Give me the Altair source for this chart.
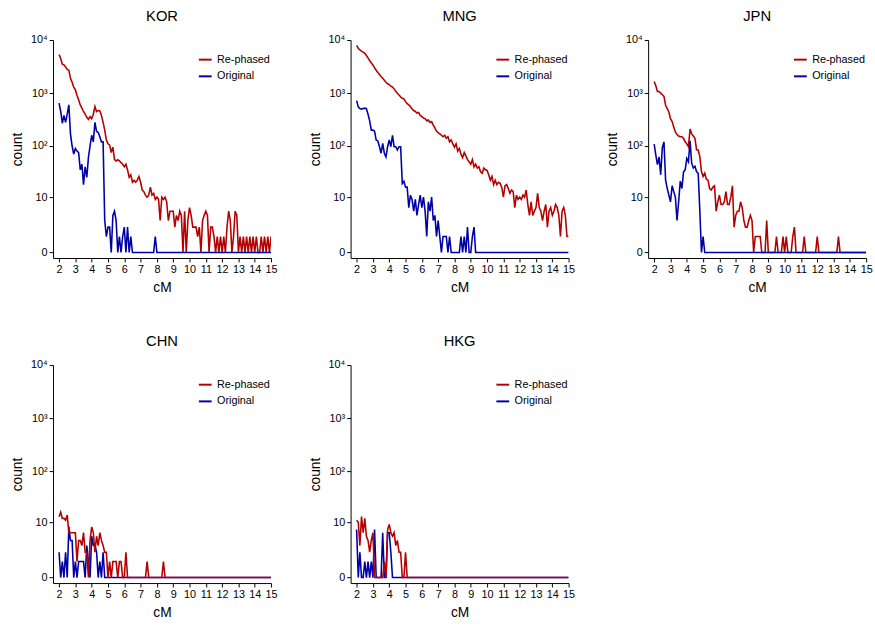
import altair as alt
import pandas as pd

# bin centres (cM)
CM = [round(2 + i / 10, 1) for i in range(131)]
XTICKS = list(range(2, 16))
YTICKS = [0, 10, 100, 1000, 10000]
SERIES = ["Re-phased", "Original"]

KOR_RE = [5300, 4500, 3500, 3400, 3100, 2800, 2700, 1900, 1600, 1300,
          1150, 900, 750, 600, 520, 450, 400, 350, 320, 360,
          330, 400, 560, 450, 470, 460, 380, 280, 200, 130,
          110, 105, 75, 95, 55, 52, 55, 52, 48, 45,
          40, 45, 35, 25, 28, 20, 22, 20, 22, 26,
          20, 14, 13, 11, 10, 11, 16, 11, 12, 9,
          10, 9, 3, 10, 9, 10, 8, 3, 5, 5,
          5, 2, 4, 3, 5, 4, 0, 5, 0, 3,
          6, 4, 2, 2, 2, 1, 2, 0, 3, 4,
          5, 4, 0, 2, 2, 1, 0, 1, 0, 1,
          0, 1, 0, 2, 5, 3, 0, 1, 5, 4,
          0, 1, 0, 1, 0, 1, 0, 1, 0, 1,
          0, 1, 0, 0, 1, 0, 1, 0, 1, 0,
          1]
KOR_OR = [650, 450, 270, 380, 280, 400, 600, 170, 100, 70,
          90, 80, 75, 35, 45, 18, 40, 25, 60, 100,
          160, 120, 280, 190, 180, 150, 120, 120, 3, 1,
          2, 2, 0, 4, 5, 3, 0, 1, 0, 1,
          2, 0, 2, 0, 1, 0, 0, 0, 0, 0,
          0, 0, 0, 0, 0, 0, 0, 0, 0, 1,
          0, 0, 0, 0, 0, 0, 0, 0, 0, 0,
          0, 0, 0, 0, 0, 0, 0, 0, 0, 0,
          0, 0, 0, 0, 0, 0, 0, 0, 0, 0,
          0, 0, 0, 0, 0, 0, 0, 0, 0, 0,
          0, 0, 0, 0, 0, 0, 0, 0, 0, 0,
          0, 0, 0, 0, 0, 0, 0, 0, 0, 0,
          0, 0, 0, 0, 0, 0, 0, 0, 0, 0,
          0]

MNG_RE = [7900, 7000, 6500, 6200, 5900, 5600, 5100, 4600, 4100, 3700,
          3400, 3000, 2700, 2450, 2250, 2050, 1900, 1750, 1600, 1500,
          1450, 1350, 1300, 1200, 1080, 990, 920, 850, 800, 780,
          690, 630, 600, 560, 500, 470, 450, 420, 430, 380,
          360, 340, 330, 300, 310, 280, 290, 250, 220, 190,
          180, 170, 160, 150, 160, 140, 150, 120, 130, 110,
          95, 110, 80, 90, 70, 60, 75, 65, 55, 50,
          45, 55, 40, 45, 38, 40, 32, 30, 38, 35,
          34, 28, 22, 26, 18, 22, 18, 20, 19, 16,
          10, 17, 18, 15, 12, 14, 13, 6, 11, 9,
          10, 9, 11, 10, 14, 7, 4, 8, 4, 5,
          6, 12, 6, 5, 3, 5, 7, 2, 5, 6,
          4, 5, 7, 6, 4, 1, 5, 6, 4, 1,
          1]
MNG_OR = [720, 550, 510, 500, 510, 520, 510, 400, 300, 200,
          200, 190, 130, 125, 97, 73, 112, 73, 62, 97,
          130, 97, 160, 97, 97, 84, 97, 97, 19, 21,
          16, 16, 6, 11, 9, 5, 9, 4, 7, 11,
          6, 10, 5, 1, 8, 5, 10, 3, 4, 1,
          3, 1, 0, 1, 1, 1, 0, 1, 0, 0,
          0, 0, 0, 0, 1, 0, 1, 0, 2, 0,
          0, 1, 2, 0, 0, 0, 0, 0, 0, 0,
          0, 0, 0, 0, 0, 0, 0, 0, 0, 0,
          0, 0, 0, 0, 0, 0, 0, 0, 0, 0,
          0, 0, 0, 0, 0, 0, 0, 0, 0, 0,
          0, 0, 0, 0, 0, 0, 0, 0, 0, 0,
          0, 0, 0, 0, 0, 0, 0, 0, 0, 0,
          0]

JPN_RE = [1650, 1380, 1070, 1070, 1000, 930, 870, 590, 510, 440,
          330, 290, 230, 185, 165, 155, 150, 150, 140, 120,
          110, 97, 210, 170, 155, 140, 85, 84, 63, 32,
          26, 30, 23, 22, 15, 14, 16, 17, 5, 8,
          11, 7, 7, 8, 13, 7, 7, 10, 17, 2,
          4, 5, 5, 8, 6, 3, 2, 2, 3, 4,
          3, 0, 1, 1, 1, 1, 0, 0, 0, 3,
          0, 0, 0, 0, 0, 1, 0, 0, 0, 1,
          0, 1, 0, 0, 0, 1, 2, 0, 0, 0,
          0, 0, 1, 0, 0, 0, 0, 0, 0, 0,
          1, 0, 0, 0, 0, 0, 0, 0, 0, 0,
          0, 0, 0, 1, 0, 0, 0, 0, 0, 0,
          0, 0, 0, 0, 0, 0, 0, 0, 0, 0,
          0]
JPN_OR = [109, 67, 44, 62, 28, 93, 120, 22, 15, 11,
          8, 17, 13, 10, 3, 8, 21, 15, 32, 35,
          58, 50, 125, 47, 38, 41, 32, 30, 5, 0,
          1, 0, 0, 0, 0, 0, 0, 0, 0, 0,
          0, 0, 0, 0, 0, 0, 0, 0, 0, 0,
          0, 0, 0, 0, 0, 0, 0, 0, 0, 0,
          0, 0, 0, 0, 0, 0, 0, 0, 0, 0,
          0, 0, 0, 0, 0, 0, 0, 0, 0, 0,
          0, 0, 0, 0, 0, 0, 0, 0, 0, 0,
          0, 0, 0, 0, 0, 0, 0, 0, 0, 0,
          0, 0, 0, 0, 0, 0, 0, 0, 0, 0,
          0, 0, 0, 0, 0, 0, 0, 0, 0, 0,
          0, 0, 0, 0, 0, 0, 0, 0, 0, 0,
          0]

CHN_RE = [13, 16, 12, 12, 11, 14, 6, 6, 6, 6,
          6, 1, 4, 4, 3, 6, 2, 2, 0, 4,
          8, 6, 2, 5, 3, 6, 4, 3, 2, 2,
          0, 1, 0, 1, 1, 1, 0, 1, 1, 0,
          0, 2, 0, 0, 0, 0, 0, 0, 0, 0,
          0, 0, 0, 0, 1, 0, 0, 0, 0, 0,
          0, 0, 0, 0, 1, 0, 0, 0, 0, 0,
          0, 0, 0, 0, 0, 0, 0, 0, 0, 0,
          0, 0, 0, 0, 0, 0, 0, 0, 0, 0,
          0, 0, 0, 0, 0, 0, 0, 0, 0, 0,
          0, 0, 0, 0, 0, 0, 0, 0, 0, 0,
          0, 0, 0, 0, 0, 0, 0, 0, 0, 0,
          0, 0, 0, 0, 0, 0, 0, 0, 0, 0,
          0]
CHN_OR = [2, 0, 1, 0, 2, 0, 8, 4, 4, 0,
          1, 0, 1, 1, 1, 1, 0, 3, 1, 0,
          5, 3, 3, 2, 0, 1, 0, 2, 0, 0,
          0, 0, 0, 0, 0, 0, 0, 0, 0, 0,
          0, 0, 0, 0, 0, 0, 0, 0, 0, 0,
          0, 0, 0, 0, 0, 0, 0, 0, 0, 0,
          0, 0, 0, 0, 0, 0, 0, 0, 0, 0,
          0, 0, 0, 0, 0, 0, 0, 0, 0, 0,
          0, 0, 0, 0, 0, 0, 0, 0, 0, 0,
          0, 0, 0, 0, 0, 0, 0, 0, 0, 0,
          0, 0, 0, 0, 0, 0, 0, 0, 0, 0,
          0, 0, 0, 0, 0, 0, 0, 0, 0, 0,
          0, 0, 0, 0, 0, 0, 0, 0, 0, 0,
          0]

HKG_RE = [11, 10, 3, 13, 6, 12, 5, 4, 2, 4,
          6, 0, 0, 0, 0, 0, 0, 1, 0, 7,
          9, 6, 5, 6, 3, 4, 2, 2, 0, 0,
          2, 0, 0, 0, 0, 0, 0, 0, 0, 0,
          0, 0, 0, 0, 0, 0, 0, 0, 0, 0,
          0, 0, 0, 0, 0, 0, 0, 0, 0, 0,
          0, 0, 0, 0, 0, 0, 0, 0, 0, 0,
          0, 0, 0, 0, 0, 0, 0, 0, 0, 0,
          0, 0, 0, 0, 0, 0, 0, 0, 0, 0,
          0, 0, 0, 0, 0, 0, 0, 0, 0, 0,
          0, 0, 0, 0, 0, 0, 0, 0, 0, 0,
          0, 0, 0, 0, 0, 0, 0, 0, 0, 0,
          0, 0, 0, 0, 0, 0, 0, 0, 0, 0,
          0]
HKG_OR = [7, 0, 2, 0, 0, 1, 0, 1, 0, 1,
          0, 7, 0, 0, 0, 0, 6, 0, 0, 6,
          6, 2, 0, 0, 0, 0, 0, 0, 0, 0,
          0, 0, 0, 0, 0, 0, 0, 0, 0, 0,
          0, 0, 0, 0, 0, 0, 0, 0, 0, 0,
          0, 0, 0, 0, 0, 0, 0, 0, 0, 0,
          0, 0, 0, 0, 0, 0, 0, 0, 0, 0,
          0, 0, 0, 0, 0, 0, 0, 0, 0, 0,
          0, 0, 0, 0, 0, 0, 0, 0, 0, 0,
          0, 0, 0, 0, 0, 0, 0, 0, 0, 0,
          0, 0, 0, 0, 0, 0, 0, 0, 0, 0,
          0, 0, 0, 0, 0, 0, 0, 0, 0, 0,
          0, 0, 0, 0, 0, 0, 0, 0, 0, 0,
          0]

RED = "#b40000"
BLUE = "#0000a8"
FONT = "Liberation Sans"

Y_LABELS = ("datum.value == 10000 ? '10\u2074' : datum.value == 1000 ? '10\u00b3' : "
            "datum.value == 100 ? '10\u00b2' : datum.label")


def panel(name, re, orig, red_on_top=False):
    n = len(CM)
    assert len(re) == n and len(orig) == n, name
    red_df = pd.DataFrame({"cM": CM, "count": re, "series": [SERIES[0]] * n})
    blue_df = pd.DataFrame({"cM": CM, "count": orig, "series": [SERIES[1]] * n})
    parts = [blue_df, red_df] if red_on_top else [red_df, blue_df]
    df = pd.concat(parts, ignore_index=True)
    return alt.Chart(
        df,
        title=alt.Title(name, fontSize=15, fontWeight="normal", font=FONT,
                        color="black", offset=10),
    ).mark_line(strokeWidth=1.6, clip=True).encode(
        x=alt.X("cM:Q",
                scale=alt.Scale(domain=[1.63, 15], nice=False, zero=False),
                axis=alt.Axis(values=XTICKS, title="cM", labelFlush=False)),
        y=alt.Y("count:Q",
                scale=alt.Scale(type="symlog", constant=1, domain=[-0.27, 10000], nice=False),
                axis=alt.Axis(values=YTICKS, labelExpr=Y_LABELS, title="count")),
        color=alt.Color("series:N",
                        scale=alt.Scale(domain=SERIES, range=[RED, BLUE]),
                        legend=alt.Legend(orient="none", legendX=147, legendY=12, title=None,
                                          symbolType="stroke", symbolStrokeWidth=2,
                                          symbolSize=170, labelFontSize=11, labelFont=FONT,
                                          labelColor="black", rowPadding=4)),
    ).properties(width=222, height=222)


row1 = alt.hconcat(panel("KOR", KOR_RE, KOR_OR), panel("MNG", MNG_RE, MNG_OR),
                   panel("JPN", JPN_RE, JPN_OR), spacing=31).resolve_legend(color="independent")
row2 = alt.hconcat(panel("CHN", CHN_RE, CHN_OR, red_on_top=True),
                   panel("HKG", HKG_RE, HKG_OR, red_on_top=True),
                   spacing=31).resolve_legend(color="independent")

chart = alt.vconcat(row1, row2, spacing=41).resolve_legend(color="independent").properties(
    padding={"left": 11, "top": 4, "right": 2, "bottom": 2}
).configure_view(stroke=None).configure_axis(
    grid=False, domainColor="black", tickColor="black", labelColor="black",
    titleColor="black", labelFont=FONT, titleFont=FONT, titleFontWeight="normal",
    titleFontSize=14, labelFontSize=11, tickSize=4, domainWidth=1, tickWidth=1,
    labelPadding=2, titlePadding=6,
)

chart.save("out.html", embed_options={"renderer": "svg", "actions": False})
